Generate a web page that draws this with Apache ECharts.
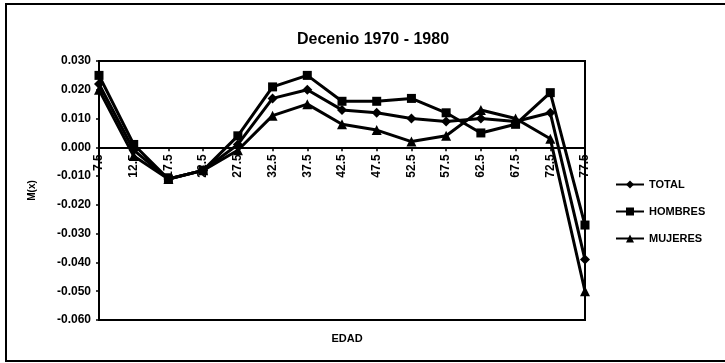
<!DOCTYPE html>
<html>
<head>
<meta charset="utf-8">
<script src="https://cdn.jsdelivr.net/npm/echarts@6/dist/echarts.min.js"></script>
<style>
  html, body { margin: 0; padding: 0; background: #fff; }
  #chart { width: 725px; height: 363px; }
</style>
</head>
<body>
<div id="chart"></div>
<script>
// Age groups (midpoints) and mortality-rate changes M(x)
var edades = ['7.5', '12.5', '17.5', '22.5', '27.5', '32.5', '37.5', '42.5', '47.5', '52.5', '57.5', '62.5', '67.5', '72.5', '77.5'];
var total = [0.022, -0.001, -0.011, -0.008, 0.001, 0.017, 0.020, 0.013, 0.012, 0.010, 0.009, 0.010, 0.009, 0.012, -0.039];
var hombres = [0.025, 0.001, -0.011, -0.008, 0.004, 0.021, 0.025, 0.016, 0.016, 0.017, 0.012, 0.005, 0.008, 0.019, -0.027];
var mujeres = [0.020, -0.003, -0.011, -0.008, -0.001, 0.011, 0.015, 0.008, 0.006, 0.002, 0.004, 0.013, 0.010, 0.003, -0.050];
var yTicks = { min: -0.06, max: 0.03, step: 0.01 };

var FONT = '"Liberation Sans", Arial, sans-serif';
var INK = '#000';

// Plot box
var GRID = { left: 99, right: 140, top: 61, bottom: 43 };
var plotH = 363 - GRID.top - GRID.bottom;
// distance from the bottom of the plot box up to the zero line
var zeroLift = plotH * (0 - yTicks.min) / (yTicks.max - yTicks.min);

function serie(nombre, datos, simbolo, tam) {
  return {
    name: nombre,
    type: 'line',
    data: datos,
    symbol: simbolo,
    symbolSize: tam,
    showAllSymbol: true,
    lineStyle: { color: INK, width: 3 },
    itemStyle: { color: INK, borderColor: INK, borderWidth: 0 },
    emphasis: { disabled: true },
    animation: false
  };
}

var chart = echarts.init(document.getElementById('chart'), null, { renderer: 'canvas' });
chart.setOption({
  backgroundColor: '#fff',
  animation: false,
  title: [
    {
      text: 'Decenio 1970 - 1980',
      left: 368, top: 27, textAlign: 'center',
      textStyle: { fontFamily: FONT, fontSize: 16, fontWeight: 'bold', color: INK }
    },
    {
      text: 'EDAD',
      left: 342, top: 328, textAlign: 'center',
      textStyle: { fontFamily: FONT, fontSize: 11, fontWeight: 'bold', color: INK }
    }
  ],
  graphic: [
    {
      type: 'rect',
      shape: { x: 6, y: 4, width: 760, height: 357 },
      style: { fill: null, stroke: INK, lineWidth: 2 },
      silent: true
    }
  ],
  grid: {
    left: GRID.left, right: GRID.right, top: GRID.top, bottom: GRID.bottom,
    show: true, borderColor: INK, borderWidth: 2, backgroundColor: 'transparent'
  },
  legend: {
    orient: 'vertical',
    left: 610, top: 174,
    itemWidth: 28, itemHeight: 10, itemGap: 16,
    textStyle: { fontFamily: FONT, fontSize: 11, fontWeight: 'bold', color: INK },
    data: ['TOTAL', 'HOMBRES', 'MUJERES'],
    selectedMode: false
  },
  xAxis: {
    type: 'category',
    data: edades,
    boundaryGap: false,
    position: 'bottom',
    offset: -zeroLift,
    axisLine: { onZero: false, lineStyle: { color: INK, width: 2 } },
    axisTick: { show: true, length: 4, inside: false, lineStyle: { color: INK, width: 1.5 } },
    axisLabel: {
      rotate: 90, interval: 0, margin: 7,
      fontFamily: FONT, fontSize: 12, fontWeight: 'bold', color: INK
    },
    splitLine: { show: false }
  },
  yAxis: {
    type: 'value',
    min: yTicks.min, max: yTicks.max, interval: yTicks.step,
    name: 'M(x)',
    nameLocation: 'middle',
    nameGap: 62,
    nameRotate: 90,
    nameTextStyle: { fontFamily: FONT, fontSize: 10, fontWeight: 'bold', color: INK },
    axisLine: { show: true, lineStyle: { color: INK, width: 2 } },
    axisTick: { show: true, length: 3, lineStyle: { color: INK, width: 1.5 } },
    axisLabel: {
      margin: 8,
      fontFamily: FONT, fontSize: 12, fontWeight: 'bold', color: INK,
      formatter: function (v) { return v.toFixed(3); }
    },
    splitLine: { show: false }
  },
  series: [
    serie('TOTAL', total, 'diamond', 10),
    serie('HOMBRES', hombres, 'rect', 9),
    serie('MUJERES', mujeres, 'triangle', 10)
  ]
});
</script>
</body>
</html>
